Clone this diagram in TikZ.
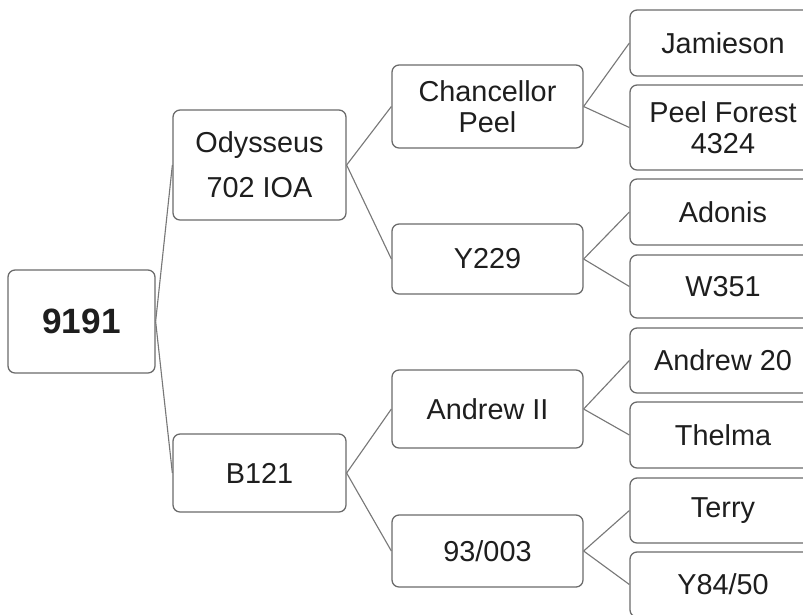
\documentclass[tikz,border=0pt]{standalone}
\usepackage{fontspec}
\setmainfont{Liberation Sans}
\begin{document}
\begin{tikzpicture}[x=0.025cm, y=-0.025cm]
    \def\px{0.025cm}

    \definecolor{borderColour}{HTML}{6A6A6A}
    \definecolor{lineColour}{HTML}{787878}
    \definecolor{textColour}{HTML}{1E1E1E}

    \tikzset{
        box/.style={draw=borderColour, line width=0.9pt, rounded corners=5pt, fill=white,
            text=textColour, align=center, inner sep=0pt,
            font=\fontsize{20.5}{22}\selectfont},
        rootbox/.style={box, minimum width=147*\px, font=\fontsize{25}{28}\selectfont\bfseries},
        midbox/.style={box, minimum width=173*\px},
        pairbox/.style={box, minimum width=191*\px},
        leafbox/.style={box, minimum width=186*\px},
        link/.style={draw=lineColour, line width=0.8pt}
    }

    % Page frame
    \useasboundingbox (0,0) rectangle (803,614);
    \clip (0,0) rectangle (803,614);

    % Root
    \node[rootbox, minimum height=103*\px] (root) at (81.5,321.5) {9191};

    % First level
    \node[midbox, minimum height=110*\px] (ody) at (259.5,165) {Odysseus\\[10pt]702 IOA};
    \node[midbox, minimum height=78*\px] (b121) at (259.5,473) {B121};

    % Second level
    \node[pairbox, minimum height=83*\px] (chan) at (487.5,106.5) {Chancellor\\Peel};
    \node[pairbox, minimum height=70*\px] (y229) at (487.5,259) {Y229};
    \node[pairbox, minimum height=78*\px] (andii) at (487.5,409) {Andrew II};
    \node[pairbox, minimum height=72*\px] (ninetythree) at (487.5,551) {93/003};

    % Third level (running off the right edge)
    \node[leafbox, minimum height=66*\px] (jam) at (723,43) {Jamieson};
    \node[leafbox, minimum height=85*\px] (peel) at (723,127.5) {Peel Forest\\4324};
    \node[leafbox, minimum height=66*\px] (adonis) at (723,212) {Adonis};
    \node[leafbox, minimum height=63*\px] (w351) at (723,286.5) {W351};
    \node[leafbox, minimum height=65*\px] (andtwenty) at (723,360.5) {Andrew 20};
    \node[leafbox, minimum height=66*\px] (thelma) at (723,435) {Thelma};
    \node[leafbox, minimum height=65*\px] (terry) at (723,510.5) {Terry};
    \node[leafbox, minimum height=65*\px] (yeightyfour) at (723,584.5) {Y84/50};

    % Connectors
    \foreach \a/\b in {root/ody, root/b121, ody/chan, ody/y229, b121/andii, b121/ninetythree,
                       chan/jam, chan/peel, y229/adonis, y229/w351,
                       andii/andtwenty, andii/thelma, ninetythree/terry, ninetythree/yeightyfour}
        \draw[link] (\a.east) -- (\b.west);
\end{tikzpicture}
\end{document}
